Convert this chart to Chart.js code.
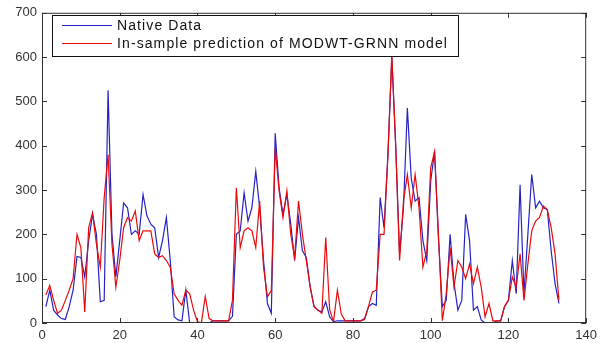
<!DOCTYPE html>
<html><head><meta charset="utf-8">
<script src="https://cdn.jsdelivr.net/npm/chart.js@4/dist/chart.umd.min.js"></script>
<style>html,body{margin:0;padding:0;background:#fff}#wrap{width:602px;height:343px}</style>
</head><body><div id="wrap"><canvas id="c" width="602" height="343"></canvas></div>
<script>
const seriesNames = ["Native Data", "In-sample prediction of MODWT-GRNN model"];
const xTicks = [0, 20, 40, 60, 80, 100, 120, 140];
const yTicks = [0, 100, 200, 300, 400, 500, 600, 700];
const nativeData = [37,74,29,18,10,8,37,74,150,148,104,185,245,200,48,51,525,200,104,186,271,260,200,208,200,290,242,223,215,148,186,238,141,14,7,5,74,0,0,0,0,0,0,5,5,5,5,5,15,200,208,294,230,260,342,260,141,44,22,428,305,245,290,223,141,238,163,148,81,37,29,25,48,14,3,5,5,5,5,5,5,5,10,37,44,40,283,215,380,600,400,156,260,485,327,275,283,186,141,320,387,190,37,51,200,90,29,51,245,186,29,37,7,0,0,0,5,5,37,51,141,66,312,66,200,335,260,275,260,256,163,89,44];
const predData = [63,85,51,22,29,51,74,100,200,170,25,215,249,178,126,283,380,178,81,141,215,238,230,253,186,208,208,208,156,148,152,141,126,66,51,40,74,66,29,3,0,60,10,5,5,5,5,5,51,305,170,208,215,208,170,275,126,59,74,395,298,238,298,200,148,275,200,141,81,37,29,22,193,30,3,74,20,5,5,5,5,5,8,37,70,74,200,200,380,605,400,141,275,335,260,335,260,126,163,350,387,200,5,66,170,81,141,126,100,133,89,126,81,14,44,5,5,5,37,51,104,81,156,51,133,208,230,238,264,256,215,156,51];
const sampleIndex = nativeData.map((_, i) => i + 1);

const toPts = arr => arr.map((v, i) => ({x: sampleIndex[i], y: v}));

const framePlugin = {
  id: 'frame',
  afterDraw(chart) {
    const {ctx, chartArea: a, scales} = chart;
    ctx.save();
    ctx.strokeStyle = '#333';
    ctx.lineWidth = 1;
    ctx.strokeRect(a.left + 0.5, a.top + 0.5, a.right - a.left - 1, a.bottom - a.top - 1);
    const tl = 5;
    ctx.beginPath();
    xTicks.forEach(t => {
      const px = Math.round(scales.x.getPixelForValue(t)) + 0.5;
      ctx.moveTo(px, a.bottom); ctx.lineTo(px, a.bottom - tl);
      ctx.moveTo(px, a.top); ctx.lineTo(px, a.top + tl);
    });
    yTicks.forEach(t => {
      const py = Math.round(scales.y.getPixelForValue(t)) + 0.5;
      ctx.moveTo(a.left, py); ctx.lineTo(a.left + tl, py);
      ctx.moveTo(a.right, py); ctx.lineTo(a.right - tl, py);
    });
    ctx.stroke();
    // legend
    const bx = 52, by = 15, bw = 406, bh = 41;
    ctx.fillStyle = '#fff';
    ctx.fillRect(bx, by, bw, bh);
    ctx.strokeStyle = '#111';
    ctx.strokeRect(bx + 0.5, by + 0.5, bw, bh);
    const ds = chart.data.datasets;
    const rows = [25.5, 43.5];
    ctx.font = '14px "Liberation Sans", Arial, sans-serif';
    const w0 = ctx.measureText(ds[1].label).width;
    const ls = (331 - w0) / ds[1].label.length;
    if ('letterSpacing' in ctx) ctx.letterSpacing = ls.toFixed(2) + 'px';
    ctx.textBaseline = 'middle';
    ctx.fillStyle = '#111';
    ds.forEach((d, i) => {
      ctx.strokeStyle = d.borderColor;
      ctx.lineWidth = 1.2;
      ctx.beginPath(); ctx.moveTo(62, rows[i]); ctx.lineTo(112, rows[i]); ctx.stroke();
      ctx.fillText(d.label, 117, rows[i] + 1);
    });
    ctx.restore();
  }
};

new Chart(document.getElementById('c'), {
  type: 'line',
  data: {
    datasets: [
      {label: seriesNames[0], data: toPts(nativeData), borderColor: 'rgb(35,35,200)', borderWidth: 1.2, pointRadius: 0, tension: 0, order: 1, fill: false},
      {label: seriesNames[1], data: toPts(predData), borderColor: 'rgb(235,10,10)', borderWidth: 1.2, pointRadius: 0, tension: 0, order: 0, fill: false}
    ]
  },
  options: {
    responsive: false,
    animation: false,
    devicePixelRatio: 1,
    layout: {padding: {top: 10, right: 11, left: 0, bottom: 0}},
    plugins: {legend: {display: false}, tooltip: {enabled: false}},
    scales: {
      x: {
        type: 'linear', min: 0, max: 140,
        afterBuildTicks: s => { s.ticks = xTicks.map(v => ({value: v})); },
        afterFit: s => { s.height = 20; },
        grid: {display: false, drawTicks: false},
        border: {display: false},
        ticks: {color: '#333', padding: 5, font: {size: 13, family: '"Liberation Sans", Arial, sans-serif'}, maxRotation: 0}
      },
      y: {
        min: 0, max: 700,
        afterBuildTicks: s => { s.ticks = yTicks.map(v => ({value: v})); },
        afterFit: s => { s.width = 42; },
        grid: {display: false, drawTicks: false},
        border: {display: false},
        ticks: {color: '#333', padding: 5, font: {size: 13, family: '"Liberation Sans", Arial, sans-serif'}}
      }
    }
  },
  plugins: [framePlugin]
});
</script></body></html>
